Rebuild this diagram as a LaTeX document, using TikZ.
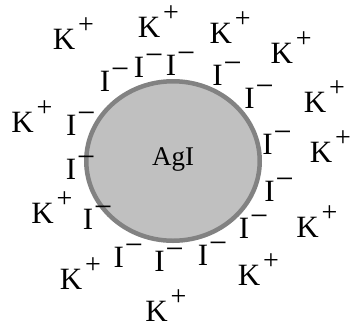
\documentclass[tikz,border=0pt]{standalone}
\usepackage{fontspec}
\setmainfont{Liberation Serif}
\definecolor{coreFill}{HTML}{C0C0C0}
\definecolor{coreEdge}{HTML}{828282}
% ion labels: the node box covers only the letter, the charge hangs to the right
\newcommand\kation{K\rlap{\hspace{3pt}\raisebox{16pt}{\fontsize{28}{28}\selectfont +}}}
\newcommand\anion{I\rlap{\hspace{1pt}\raisebox{12pt}{\fontsize{32}{32}\selectfont −}}}
\begin{document}
\begin{tikzpicture}[x=1pt,y=-1pt,
  ion/.style={inner sep=0pt, anchor=base, font=\fontsize{31}{31}\selectfont},
  core/.style={fill=coreFill, draw=coreEdge, line width=4.5pt}]
\useasboundingbox (0,0) rectangle (356,325);

% the AgI particle
\draw[core] (173,161) ellipse [x radius=86.75pt, y radius=79.75pt];
\node[inner sep=0pt, anchor=base, font=\fontsize{27}{27}\selectfont] (agi) at (173,165) {AgI};

% adsorbed iodide layer
\node[ion] (i1)  at (105,91)    {\anion};
\node[ion] (i2)  at (139,77)    {\anion};
\node[ion] (i3)  at (171,75)    {\anion};
\node[ion] (i4)  at (217.5,85)  {\anion};
\node[ion] (i5)  at (249.5,108) {\anion};
\node[ion] (i6)  at (267.5,154) {\anion};
\node[ion] (i7)  at (269.5,201) {\anion};
\node[ion] (i8)  at (244,238)   {\anion};
\node[ion] (i9)  at (203,265)   {\anion};
\node[ion] (i10) at (159.5,271) {\anion};
\node[ion] (i11) at (118.7,267) {\anion};
\node[ion] (i12) at (88,229)    {\anion};
\node[ion] (i13) at (71,179)    {\anion};
\node[ion] (i14) at (71.3,135)  {\anion};

% potassium counter-ions
\node[ion] (k1)  at (64,49)     {\kation};
\node[ion] (k2)  at (149,37)    {\kation};
\node[ion] (k3)  at (220.7,43)  {\kation};
\node[ion] (k4)  at (281.7,63)  {\kation};
\node[ion] (k5)  at (315,112)   {\kation};
\node[ion] (k6)  at (321,162)   {\kation};
\node[ion] (k7)  at (307.5,237) {\kation};
\node[ion] (k8)  at (249,285)   {\kation};
\node[ion] (k9)  at (156.5,321) {\kation};
\node[ion] (k10) at (71,289)    {\kation};
\node[ion] (k11) at (42.5,223)  {\kation};
\node[ion] (k12) at (22.5,132)  {\kation};
\end{tikzpicture}
\end{document}
